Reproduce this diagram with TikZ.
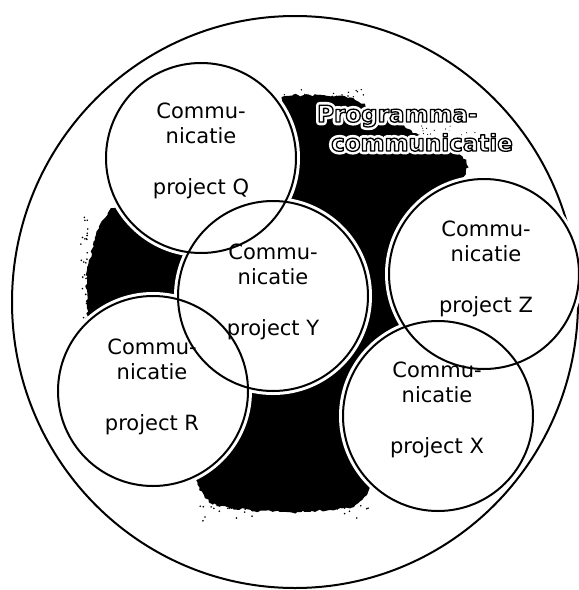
\documentclass[tikz,border=0pt]{standalone}
\usepackage{fontspec}
\newfontfamily\labelfont{DejaVu Sans}
\usetikzlibrary{decorations.pathmorphing,calc}
\newcommand{\haloedtext}[1]{\special{pdf:literal direct 1 G 6.5 w 1 j 2 Tr}#1\special{pdf:literal direct 0 Tr}}
\newcommand{\outlinedtext}[1]{\special{pdf:literal direct 0 G 1.3 w 1 j 2 Tr}#1\special{pdf:literal direct 0 Tr}}
\begin{document}
\begin{tikzpicture}[x=1pt,y=-1pt,
  halo/.style={draw=white,fill=white,line width=8pt},
  ring/.style={draw=black,line width=2pt},
  outerring/.style={draw=black,line width=2pt},
  projtext/.style={font=\labelfont\fontsize{21}{25.5}\selectfont,align=center,inner sep=0pt},
  progtext/.style={font=\labelfont\bfseries\fontsize{23}{30}\selectfont,anchor=base west,inner sep=0pt,text=white},
  speck/.style={fill=black}
]
\useasboundingbox (0,0) rectangle (579,590);
\fill[white] (0,0) rectangle (579,590);

% centres
\coordinate (cO) at (295,302);
\coordinate (cQ) at (201,158);
\coordinate (cY) at (273,296);
\coordinate (cR) at (153,391);
\coordinate (cZ) at (484,274);
\coordinate (cX) at (438,416);

% outer circle
\draw[outerring] (cO) ellipse [x radius=283pt, y radius=286pt];

% black blob
\pgfmathsetseed{11}
\fill[black, decorate, decoration={random steps,segment length=3pt,amplitude=1.6pt}]
  plot[smooth cycle, tension=0.55] coordinates {
  (285,97) (320,95) (355,100) (392,120) (428,140) (458,152) (466,174)
  (430,230) (400,300) (400,360) (380,450) (362,500) (330,510) (280,512)
  (230,508) (205,498) (190,470) (120,380) (90,325) (87,280) (95,240)
  (110,210) (140,200) (250,150) (280,110)};

% speckles
\foreach \i in {1,...,55}{
  \pgfmathsetmacro\px{200+170*rnd}
  \pgfmathsetmacro\py{505+18*rnd*rnd}
  \fill[speck] (\px,\py) circle[radius=0.9pt];
}
\foreach \i in {1,...,30}{
  \pgfmathsetmacro\px{270+100*rnd}
  \pgfmathsetmacro\py{98-12*rnd*rnd}
  \fill[speck] (\px,\py) circle[radius=0.8pt];
}
\foreach \i in {1,...,30}{
  \pgfmathsetmacro\px{88-8*rnd*rnd}
  \pgfmathsetmacro\py{215+110*rnd}
  \fill[speck] (\px,\py) circle[radius=0.9pt];
}
\foreach \i in {1,...,25}{
  \pgfmathsetmacro\px{390+85*rnd}
  \pgfmathsetmacro\py{126+12*rnd}
  \fill[speck] (\px,\py) circle[radius=0.6pt];
}

% white fills with halos
\foreach \c in {cQ,cY,cR,cZ,cX}{
  \draw[halo] (\c) circle[radius=95pt];
}
% black rings
\foreach \c in {cQ,cY,cR,cZ,cX}{
  \draw[ring] (\c) circle[radius=95pt];
}

% labels
\node[projtext] (tQ) at (201,151) {Commu-\\nicatie\\[25.5pt]project Q};
\node[projtext] (tY) at (273,292) {Commu-\\nicatie\\[25.5pt]project Y};
\node[projtext] (tR) at (152,387) {Commu-\\nicatie\\[25.5pt]project R};
\node[projtext] (tZ) at (486,269) {Commu-\\nicatie\\[25.5pt]project Z};
\node[projtext] (tX) at (437,410) {Commu-\\nicatie\\[25.5pt]project X};

% programme label: white halo, then white letters with black outline
\node[progtext] (progAh) at (317,122) {\haloedtext{Programma-}};
\node[progtext] (progBh) at (331,151) {\haloedtext{communicatie}};
\node[progtext] (progA) at (317,122) {\outlinedtext{Programma-}};
\node[progtext] (progB) at (331,151) {\outlinedtext{communicatie}};
\end{tikzpicture}
\end{document}
